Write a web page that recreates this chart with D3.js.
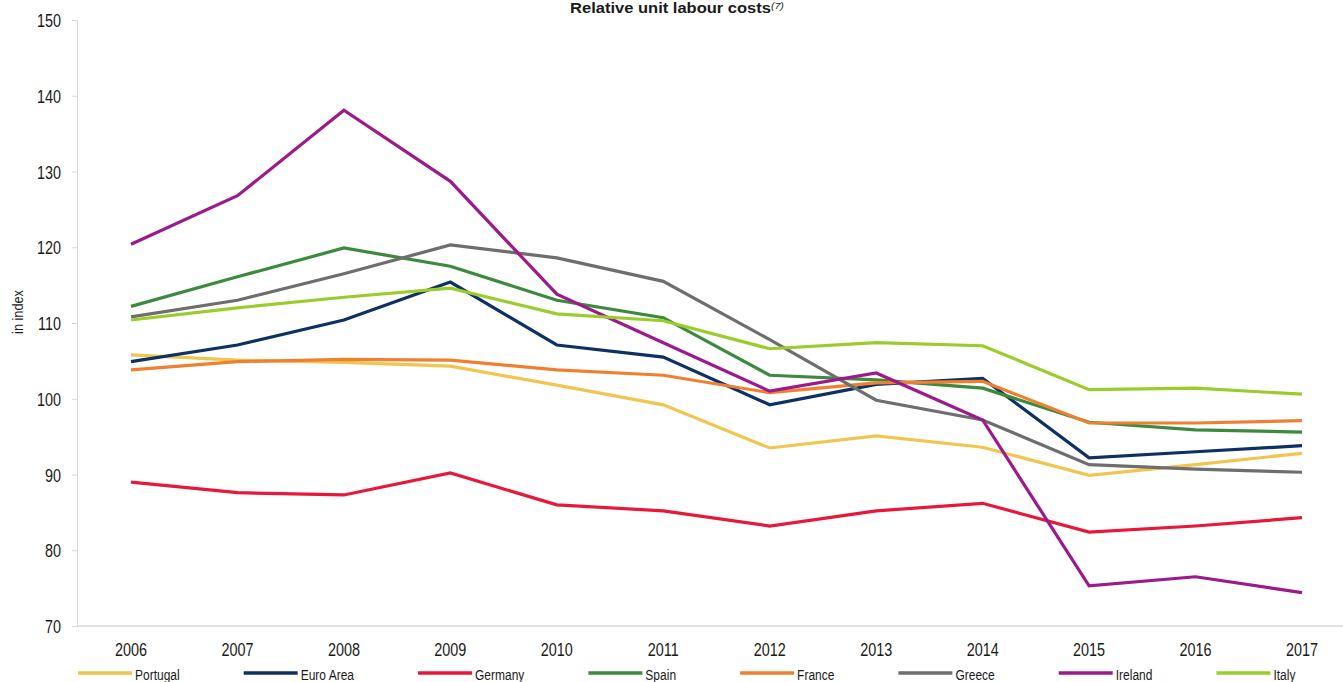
<!DOCTYPE html>
<html>
<head>
<meta charset="utf-8">
<script src="https://cdn.jsdelivr.net/npm/d3@7"></script>
<style>
  html, body { margin: 0; padding: 0; background: #fff; overflow: hidden; }
  svg text { font-family: "Liberation Sans", Arial, sans-serif; fill: #1a1a1a; }
</style>
</head>
<body>
<svg id="chart" width="1343" height="682"></svg>
<script>
// data
const years = ["2006", "2007", "2008", "2009", "2010", "2011", "2012", "2013", "2014", "2015", "2016", "2017"];
const yTicks = [70, 80, 90, 100, 110, 120, 130, 140, 150];

const portugal = [105.8, 105.1, 104.8, 104.3, 101.8, 99.2, 93.5, 95.1, 93.6, 89.9, 91.3, 92.8];
const euroArea = [104.9, 107.1, 110.4, 115.4, 107.1, 105.5, 99.2, 101.9, 102.7, 92.2, 93.0, 93.8];
const germany  = [89.0, 87.6, 87.3, 90.2, 86.0, 85.2, 83.2, 85.2, 86.2, 82.4, 83.2, 84.3];
const spain    = [112.2, 116.1, 119.9, 117.5, 113.0, 110.7, 103.1, 102.5, 101.4, 96.9, 95.9, 95.6];
const france   = [103.8, 104.9, 105.2, 105.1, 103.8, 103.1, 100.8, 102.1, 102.3, 96.8, 96.8, 97.1];
const greece   = [110.8, 113.0, 116.5, 120.3, 118.6, 115.5, 107.8, 99.8, 97.2, 91.3, 90.7, 90.3];
const ireland  = [120.4, 126.8, 138.1, 128.7, 113.8, 107.4, 101.0, 103.4, 97.2, 75.3, 76.5, 74.4];
const italy    = [110.4, 112.0, 113.4, 114.6, 111.2, 110.3, 106.6, 107.4, 107.0, 101.2, 101.4, 100.6];

const seriesNames = ["Portugal", "Euro Area", "Germany", "Spain", "France", "Greece", "Ireland", "Italy"];
const seriesValues = [portugal, euroArea, germany, spain, france, greece, ireland, italy];
const seriesColors = ["#F2C54E", "#0D3163", "#E8183A", "#3B8A3D", "#F08030", "#6E6E6E", "#9C1A8C", "#9ACD2C"];

const svg = d3.select("#chart");
const width = 1343, height = 682;
const axisX = 77;
const narrow = 0.8; // the reference uses a condensed face, squeeze Liberation Sans

// plot runs a bit past the right edge, as in the reference
const x = d3.scalePoint().domain(years).range([131, 1302]);
const y = d3.scaleLinear().domain([70, 150]).range([626, 20]);

// places a squeezed text at (px,py)
function squeezed(sel, px, py, s = narrow) {
  return sel.attr("transform", (d, i) => `translate(${px(d, i)},${py(d, i)}) scale(${s},1)`);
}

// title
const title = svg.append("g").attr("transform", "translate(677,13) scale(1.18,1)")
  .append("text")
  .attr("text-anchor", "middle")
  .style("font-weight", "bold")
  .style("font-size", "14px");
title.append("tspan").text("Relative unit labour costs");
title.append("tspan").attr("dy", -4).style("font-size", "9px").style("font-weight", "normal").style("font-style", "italic").text("(7)");

// y axis (line + ticks from d3, labels drawn squeezed)
const yAxis = svg.append("g")
  .attr("transform", `translate(${axisX},0)`)
  .call(d3.axisLeft(y).tickValues(yTicks).tickSize(5).tickFormat(""));
yAxis.select(".domain").attr("stroke", "#d9d9d9");
yAxis.selectAll(".tick line").attr("stroke", "#d9d9d9");

svg.append("g").selectAll("text")
  .data(yTicks)
  .join("text")
  .attr("text-anchor", "end")
  .style("font-size", "18px")
  .text(d => d)
  .call(squeezed, () => 61, d => y(d) + 7);

// x axis line
svg.append("line")
  .attr("x1", axisX).attr("x2", width)
  .attr("y1", y(70)).attr("y2", y(70))
  .attr("stroke", "#d9d9d9").attr("stroke-width", 1.5);

svg.append("g").selectAll("text")
  .data(years)
  .join("text")
  .attr("text-anchor", "middle")
  .style("font-size", "18px")
  .text(d => d)
  .call(squeezed, d => x(d), () => 656);

// y label
svg.append("text")
  .attr("transform", `translate(23,312) rotate(-90) scale(0.85,1)`)
  .attr("text-anchor", "middle")
  .style("font-size", "15px")
  .text("in index");

// lines
const line = d3.line().x((d, i) => x(years[i])).y(d => y(d));
svg.append("g").selectAll("path")
  .data(seriesValues)
  .join("path")
  .attr("fill", "none")
  .attr("stroke", (d, i) => seriesColors[i])
  .attr("stroke-width", 3.2)
  .attr("stroke-linejoin", "miter")
  .attr("d", line);

// legend, flowed left to right like Excel does it
let lx = 78;
seriesNames.forEach((name, i) => {
  const g = svg.append("g").attr("transform", `translate(${lx},673)`);
  g.append("line").attr("x1", 0).attr("x2", 54)
    .attr("stroke", seriesColors[i]).attr("stroke-width", 3.5);
  const t = g.append("text")
    .style("font-size", "15px")
    .attr("transform", `translate(57,7) scale(${narrow},1)`)
    .text(name);
  lx += 57 + t.node().getComputedTextLength() * narrow + 64;
});
</script>
</body>
</html>
